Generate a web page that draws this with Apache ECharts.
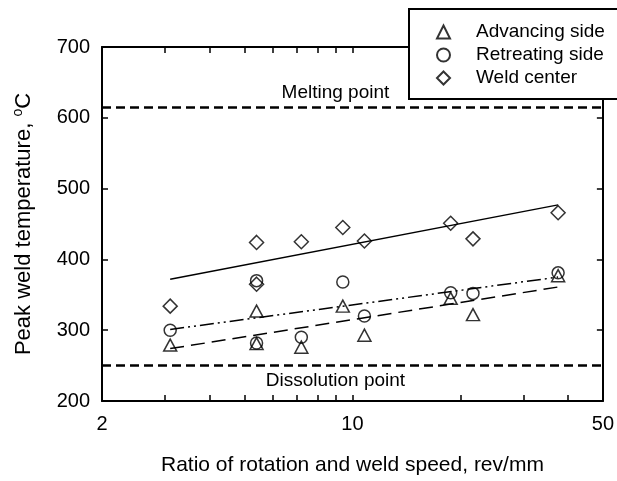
<!doctype html>
<html>
<head>
<meta charset="utf-8">
<script src="https://cdn.jsdelivr.net/npm/echarts@6/dist/echarts.min.js"></script>
<style>
  html, body { margin: 0; padding: 0; background: #fff; }
  #main { width: 617px; height: 481px; }
</style>
</head>
<body>
<div id="main"></div>
<script>
// ratio of rotation to weld speed (rev/mm)
var ratio = [3.1, 5.4, 5.4, 7.2, 9.4, 10.8, 18.8, 21.7, 37.5];
var advancing = [279, 327, 281, 276, 334, 293, 345, 322, 377];
var retreating = [300, 370, 282, 290, 368, 320, 353, 352, 381];
var weldCenter = [334, 424, 365, 425, 445, 426, 451, 429, 466];

// fitted trend lines, end points
var fitX = [3.1, 37.5];
var advancingFit = [274, 361];
var retreatingFit = [301, 375];
var weldCenterFit = [372, 477];

var meltingPoint = 615;
var dissolutionPoint = 250;

var xLabels = [2, 10, 50];
var xTicks = [2, 3, 4, 5, 6, 7, 8, 9, 10, 20, 30, 40, 50];

var font = 'Liberation Sans, Arial, sans-serif';

function pairs(xs, ys) {
    return xs.map(function (x, i) { return [x, ys[i]]; });
}

var chart = echarts.init(document.getElementById('main'));

function xAxis(pos, showLabel) {
    return {
        type: 'log',
        logBase: 10,
        min: 2,
        max: 50,
        position: pos,
        axisLine: { lineStyle: { color: '#000', width: 2 } },
        axisTick: { inside: true, length: 6, customValues: xTicks, lineStyle: { color: '#000', width: 1.5 } },
        axisLabel: {
            show: showLabel, customValues: xLabels, margin: 13,
            fontSize: 20, fontFamily: font, color: '#000',
            showMinLabel: true, showMaxLabel: true
        },
        splitLine: { show: false },
        name: showLabel ? 'Ratio of rotation and weld speed, rev/mm' : '',
        nameLocation: 'middle',
        nameGap: 54,
        nameTextStyle: { fontSize: 21, fontFamily: font, color: '#000' }
    };
}

function yAxis(pos, showLabel) {
    return {
        type: 'value',
        min: 200,
        max: 700,
        interval: 100,
        position: pos,
        axisLine: { show: true, lineStyle: { color: '#000', width: 2 } },
        axisTick: { show: true, inside: true, length: 6, lineStyle: { color: '#000', width: 1.5 } },
        axisLabel: { show: showLabel, margin: 12, fontSize: 20, fontFamily: font, color: '#000' },
        splitLine: { show: false },
        name: showLabel ? 'Peak weld temperature, {sup|o}C' : '',
        nameLocation: 'middle',
        nameGap: 66,
        nameTextStyle: {
            fontSize: 22, fontFamily: font, color: '#000', lineHeight: 25,
            rich: { sup: { fontSize: 14, fontFamily: font, color: '#000', verticalAlign: 'top' } }
        }
    };
}

var marker = { color: 'rgba(0,0,0,0)', borderColor: '#000', borderWidth: 1.5 };

function fitLine(ys, type) {
    return {
        name: 'fit',
        type: 'line',
        data: pairs(fitX, ys),
        symbol: 'none',
        silent: true,
        lineStyle: { color: '#000', width: 1.5, type: type },
        z: 1
    };
}

chart.setOption({
    animation: false,
    backgroundColor: '#fff',
    grid: { left: 102, right: 11, top: 47, bottom: 80 },
    xAxis: [xAxis('bottom', true), xAxis('top', false)],
    yAxis: [yAxis('left', true), yAxis('right', false)],
    legend: {
        orient: 'vertical',
        left: 409,
        top: 9,
        data: [
            { name: 'Advancing side', icon: 'triangle' },
            { name: 'Retreating side', icon: 'circle' },
            { name: 'Weld center', icon: 'diamond' }
        ],
        itemWidth: 13,
        itemHeight: 13,
        itemGap: 3,
        padding: [13, 40, 11, 27],
        borderColor: '#000',
        borderWidth: 2,
        borderRadius: 0,
        backgroundColor: '#fff',
        selectedMode: false,
        textStyle: { fontSize: 19, fontFamily: font, color: '#000', lineHeight: 20, padding: [0, 0, 0, 21] },
        z: 10
    },
    series: [
        fitLine(advancingFit, [14, 7]),
        fitLine(retreatingFit, [14, 4, 2, 4, 2, 4]),
        fitLine(weldCenterFit, 'solid'),
        {
            name: 'Advancing side',
            type: 'scatter',
            symbol: 'triangle',
            symbolSize: [13, 12],
            data: pairs(ratio, advancing),
            itemStyle: marker
        },
        {
            name: 'Retreating side',
            type: 'scatter',
            symbol: 'circle',
            symbolSize: 12,
            data: pairs(ratio, retreating),
            itemStyle: marker
        },
        {
            name: 'Weld center',
            type: 'scatter',
            symbol: 'diamond',
            symbolSize: 14,
            data: pairs(ratio, weldCenter),
            itemStyle: marker,
            markLine: {
                silent: true,
                symbol: ['none', 'none'],
                lineStyle: { color: '#000', width: 2.5, type: [9, 5] },
                label: { fontSize: 19, fontFamily: font, color: '#000', padding: [0, 34, 0, 0] },
                data: [
                    { yAxis: meltingPoint, label: { formatter: 'Melting point', position: 'insideMiddleTop', distance: 5 } },
                    { yAxis: dissolutionPoint, label: { formatter: 'Dissolution point', position: 'insideMiddleBottom', distance: 6 } }
                ]
            }
        }
    ]
});

window.onresize = chart.resize;
</script>
</body>
</html>
